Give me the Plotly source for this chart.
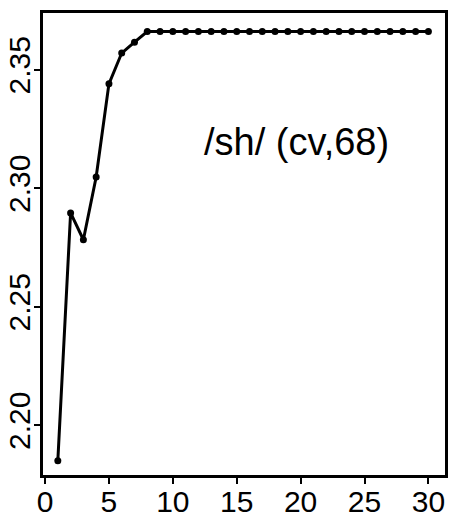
import plotly.graph_objects as go

iterations = list(range(1, 31))
scores = [2.185, 2.2896, 2.2783, 2.3048, 2.3441, 2.3571, 2.3617] + [2.3662] * 23
x_ticks = [0, 5, 10, 15, 20, 25, 30]
y_ticks = [2.20, 2.25, 2.30, 2.35]
y_tick_labels = ["2.20", "2.25", "2.30", "2.35"]
label_text = "/sh/ (cv,68)"

fig = go.Figure()
fig.add_trace(go.Scatter(
    x=iterations, y=scores, mode="lines+markers",
    line=dict(color="black", width=3),
    marker=dict(color="black", size=7),
    showlegend=False,
))
fig.add_annotation(x=19.7, y=2.3195, text=label_text, showarrow=False,
                   font=dict(family="Liberation Sans, Arial", size=38, color="black"))

axis_common = dict(showline=True, linecolor="black", linewidth=2.5, mirror=True,
                   ticks="outside", ticklen=6, tickwidth=2, tickcolor="black",
                   showgrid=False, zeroline=False, automargin=False,
                   tickfont=dict(family="Liberation Sans, Arial", size=30, color="black"))
fig.update_xaxes(range=[-0.16, 31.3], tickvals=x_ticks, ticklabelstandoff=-8, **axis_common)
fig.update_yaxes(range=[2.179, 2.374], tickvals=y_ticks, ticktext=y_tick_labels,
                 tickangle=-90, ticklabelstandoff=-8, **axis_common)
fig.update_layout(width=450, height=517, margin=dict(l=43, r=5, t=13, b=42),
                  plot_bgcolor="white", paper_bgcolor="white")
fig.write_html("out.html")
